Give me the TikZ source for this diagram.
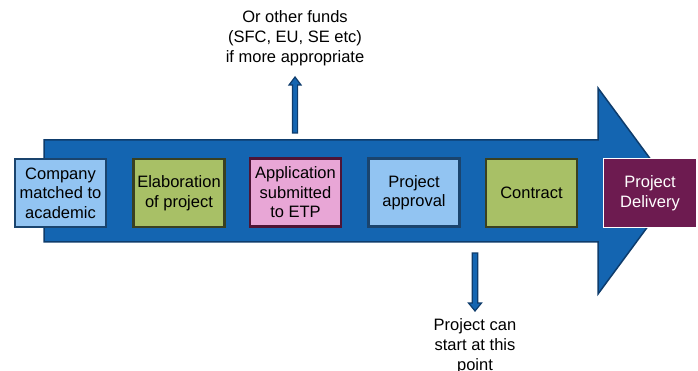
\documentclass[tikz,border=0pt]{standalone}
\usepackage{fontspec}
\setmainfont{Liberation Sans}
\usetikzlibrary{calc}
\definecolor{arrowblue}{RGB}{20,101,177}
\definecolor{arrowdark}{RGB}{14,60,108}
\definecolor{lightblue}{RGB}{146,196,242}
\definecolor{blueborder}{RGB}{26,68,110}
\definecolor{olive}{RGB}{168,192,102}
\definecolor{oliveborder}{RGB}{58,64,32}
\definecolor{pinkfill}{RGB}{232,166,214}
\definecolor{pinkborder}{RGB}{78,20,54}
\definecolor{purplefill}{RGB}{109,27,80}
\tikzset{
  stepbox/.style={draw, line width=2.5pt, minimum width=91pt, minimum height=68pt,
    align=center, inner sep=1pt, font=\fontsize{16.5}{19.5}\selectfont, text=black},
  bluebox/.style={stepbox, fill=lightblue, draw=blueborder},
  greenbox/.style={stepbox, fill=olive, draw=oliveborder},
  pinkbox/.style={stepbox, fill=pinkfill, draw=pinkborder},
  purplebox/.style={stepbox, fill=purplefill, draw=white, line width=1.5pt, text=white,
    minimum width=93pt, minimum height=69pt},
  note/.style={align=center, font=\fontsize{16.5}{20}\selectfont, text=black},
  bigarrow/.style={fill=arrowblue, draw=arrowdark, line width=1.5pt, line join=miter},
  smallarrow/.style={fill=arrowblue, draw=arrowdark, line width=1.2pt, line join=miter},
}
\begin{document}
\begin{tikzpicture}[x=1pt,y=-1pt]
\useasboundingbox (0,0) rectangle (698,371);
\clip (0,0) rectangle (698,371);
% big arrow
\filldraw[bigarrow] (44,140) -- (598,140) -- (598,88) -- (674,191) -- (598,294) -- (598,242) -- (44,242) -- cycle;
% boxes
\node[bluebox]   (b1) at (60.5,193) {Company\\matched to\\academic};
\node[greenbox]  (b2) at (179,193)  {Elaboration\\of project};
\node[pinkbox]   (b3) at (295.5,192.5) {Application\\submitted\\to ETP};
\node[bluebox]   (b4) at (414,192.5) {Project\\approval};
\node[greenbox]  (b5) at (531.5,193) {Contract};
\node[purplebox] (b6) at (650,193) {Project\\Delivery};
% notes
\node[note] (n1) at (295,38) {Or other funds\\(SFC, EU, SE etc)\\if more appropriate};
\node[note] (n2) at (475,346) {Project can\\start at this\\point};
% up arrow
\coordinate (uS) at (295,133);
\coordinate (uT) at (295,77);
\filldraw[smallarrow] ($(uS)+(-2.6,0)$) -- ($(uT)+(-2.6,8)$) -- ($(uT)+(-6,8)$) -- (uT)
  -- ($(uT)+(6,8)$) -- ($(uT)+(2.6,8)$) -- ($(uS)+(2.6,0)$) -- cycle;
% down arrow
\coordinate (dS) at (475,253);
\coordinate (dT) at (475,311);
\filldraw[smallarrow] ($(dS)+(-2.8,0)$) -- ($(dT)+(-2.8,-8)$) -- ($(dT)+(-6.5,-8)$) -- (dT)
  -- ($(dT)+(6.5,-8)$) -- ($(dT)+(2.8,-8)$) -- ($(dS)+(2.8,0)$) -- cycle;
\end{tikzpicture}
\end{document}
